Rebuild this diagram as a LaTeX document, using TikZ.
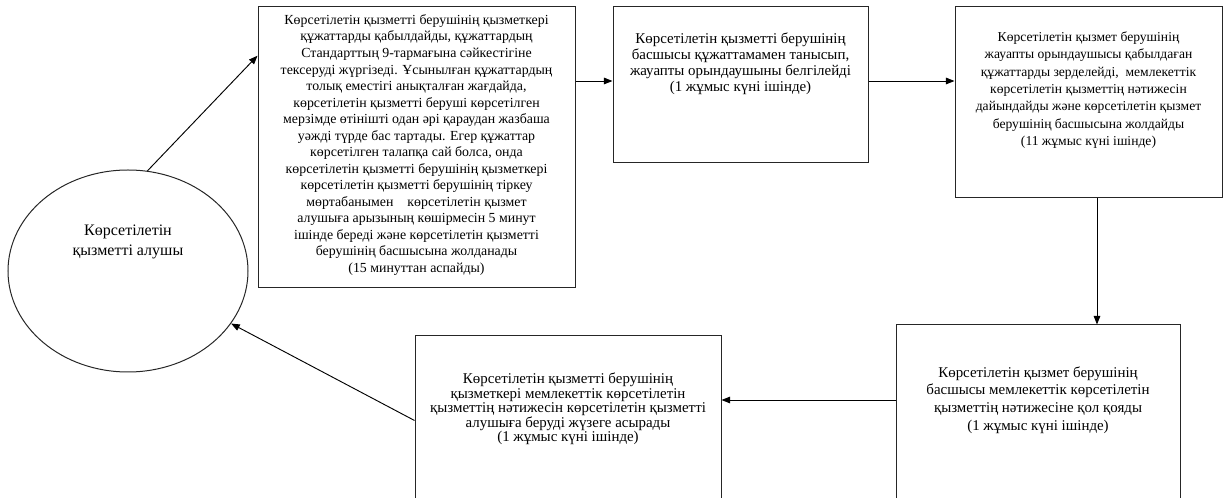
\documentclass[tikz,border=0pt]{standalone}
\usepackage{fontspec}
\setmainfont{Liberation Serif}
\usetikzlibrary{shapes.geometric,arrows.meta}

\tikzset{
  stepbox/.style={draw=black!85, line width=0.75pt},
  boxtext/.style={align=center, font=\fontsize{11.2}{12}\selectfont, inner sep=0pt},
  arr/.style={-{Triangle[length=6.5pt,width=5pt]}, line width=0.7pt}
}

\begin{document}
\begin{tikzpicture}[x=0.75pt,y=-0.75pt]
    \useasboundingbox (0,0) rectangle (1225,498);
    % boxes
    \node[stepbox, ellipse, minimum width=180pt, minimum height=151.5pt] (client) at (128,271) {};
    \node[stepbox, minimum width=237.75pt, minimum height=210.75pt] (b1) at (416.5,147.5) {};
    \node[stepbox, minimum width=191.25pt, minimum height=117pt] (b2) at (740.5,85) {};
    \node[stepbox, minimum width=200.25pt, minimum height=143.25pt] (b3) at (1088.5,102.5) {};
    \node[stepbox, minimum width=213pt, minimum height=135pt] (b4) at (1038,415) {};
    \node[stepbox, minimum width=229.5pt, minimum height=126.75pt] (b5) at (568,420.5) {};
    % texts
    \node[boxtext, font=\fontsize{12}{15}\selectfont] (t0) at (128,242) {Көрсетілетін\\қызметті алушы};
    \node[boxtext, font=\fontsize{10.4}{12.4}\selectfont] (t1) at (416.5,145) {Көрсетілетін қызметті берушінің қызметкері\\
      құжаттарды қабылдайды, құжаттардың\\
      Стандарттың 9-тармағына сәйкестігіне\\
      тексеруді жүргізеді. Ұсынылған құжаттардың\\
      толық еместігі анықталған жағдайда,\\
      көрсетілетін қызметті беруші көрсетілген\\
      мерзімде өтінішті одан әрі қараудан жазбаша\\
      уәжді түрде бас тартады. Егер құжаттар\\
      көрсетілген талапқа сай болса, онда\\
      көрсетілетін қызметті берушінің қызметкері\\
      көрсетілетін қызметті берушінің тіркеу\\
      мөртабанымен\ \ \ \ көрсетілетін қызмет\\
      алушыға арызының көшірмесін 5 минут\\
      ішінде береді және көрсетілетін қызметті\\
      берушінің басшысына жолданады\\
      (15 минуттан аспайды)};
    \node[boxtext] (t2) at (740.5,64) {Көрсетілетін қызметті берушінің\\
      басшысы құжаттамамен танысып,\\
      жауапты орындаушыны белгілейді\\
      (1 жұмыс күні ішінде)};
    \node[boxtext, font=\fontsize{10.2}{13}\selectfont] (t3) at (1088.5,90) {Көрсетілетін қызмет берушінің\\
      жауапты орындаушысы қабылдаған\\
      құжаттарды зерделейді,\ \ мемлекеттік\\
      көрсетілетін қызметтің нәтижесін\\
      дайындайды және көрсетілетін қызмет\\
      берушінің басшысына жолдайды\\
      (11 жұмыс күні ішінде)};
    \node[boxtext, font=\fontsize{11.2}{13.2}\selectfont] (t4) at (1038,400) {Көрсетілетін қызмет берушінің\\
      басшысы мемлекеттік көрсетілетін\\
      қызметтің нәтижесіне қол қояды\\
      (1 жұмыс күні ішінде)};
    \node[boxtext, font=\fontsize{11.2}{10.8}\selectfont] (t5) at (568,409) {Көрсетілетін қызметті берушінің\\
      қызметкері мемлекеттік көрсетілетін\\
      қызметтің нәтижесін көрсетілетін қызметті\\
      алушыға беруді жүзеге асырады\\
      (1 жұмыс күні ішінде)};
    % connectors
    \coordinate (r1) at (0,81);
    \coordinate (d34) at (1097,0);
    \draw[arr] (client.79) -- (b1.150);
    \draw[arr] (b1.east |- r1) -- (b2.west |- r1);
    \draw[arr] (b2.east |- r1) -- (b3.west |- r1);
    \draw[arr] (b3.south -| d34) -- (b4.north -| d34);
    \draw[arr] (t4 -| b4.west) -- (t4 -| b5.east);
    \draw[arr] (b5.west) -- (client.-27);
\end{tikzpicture}
\end{document}
